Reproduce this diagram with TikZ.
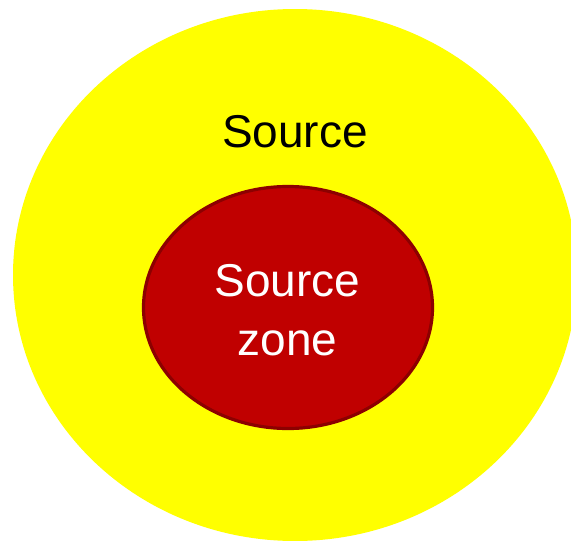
\documentclass[tikz,border=0pt]{standalone}
\usepackage{fontspec}
\setmainfont{Liberation Sans}
\definecolor{srcyellow}{RGB}{255,255,0}
\definecolor{zonered}{RGB}{192,0,0}
\definecolor{zoneedge}{RGB}{140,0,0}

\begin{document}
\begin{tikzpicture}[x=1pt, y=-1pt,
    label text/.style={font=\fontsize{46}{58}\selectfont, align=center, inner sep=0pt}]
  \useasboundingbox (0,0) rectangle (571,541);
  \clip (0,0) rectangle (571,541);
  \fill[srcyellow] (295,275) ellipse [x radius=282, y radius=266];
  \draw[fill=zonered, draw=zoneedge, line width=3.2pt] (288,307.5) ellipse [x radius=144.5, y radius=121];
  \node[label text, anchor=base] (source) at (295,147) {Source};
  \node[label text, anchor=base, text=white] (zone) at (287.5,296) {Source};
  \node[label text, anchor=base, text=white] (zone2) at (287.5,355) {zone};
\end{tikzpicture}
\end{document}
